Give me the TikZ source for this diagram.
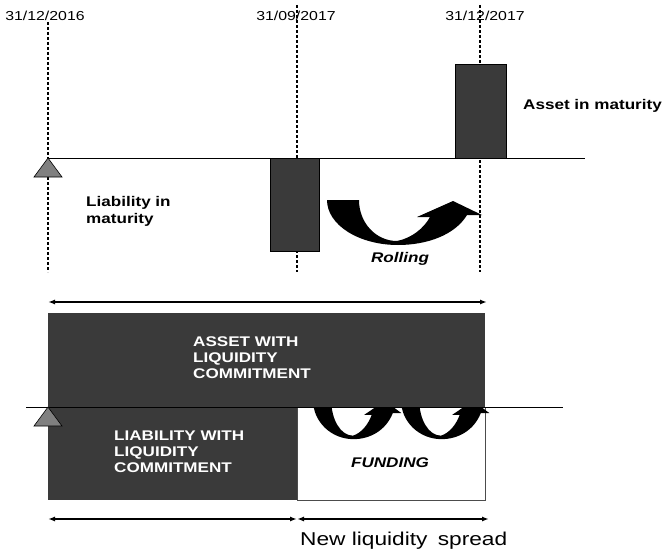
\documentclass[tikz,border=0pt]{standalone}
\usepackage{fontspec}
\setmainfont{Liberation Sans}[FakeStretch=1.22]
\usetikzlibrary{arrows.meta}

\definecolor{barfill}{HTML}{3A3A3A}
\definecolor{trifill}{HTML}{808080}

\tikzset{
    rollarrow/.pic={
        \fill (0,0) -- (32,0) .. controls (32,23) and (49,41) .. (70,41)
            .. controls (85,38) and (97,28) .. (103,17) -- (90,17) -- (126,1)
            -- (155,15) -- (140,15) .. controls (128,35) and (100,45) .. (71,45)
            .. controls (32,45) and (0,25) .. (0,0) -- cycle;
    }
}

\begin{document}
\begin{tikzpicture}[
    x=1pt, y=-1pt,
    dashline/.style={line width=2pt, dash pattern=on 3pt off 2pt},
    axis/.style={line width=0.8pt},
    bar/.style={draw=black, fill=barfill, line width=0.6pt},
    tri/.style={draw=black, fill=trifill, line width=0.6pt},
    date/.style={font=\fontsize{13}{15}\selectfont, inner sep=0pt, anchor=base},
    note/.style={font=\fontsize{14}{17}\selectfont\bfseries, align=left, inner sep=0pt, anchor=west},
    caps/.style={font=\fontsize{14}{16}\selectfont\bfseries, align=left, inner sep=0pt, anchor=west, text=white},
    span/.style={{Latex[length=7pt,width=5pt]}-{Latex[length=7pt,width=5pt]}, line width=1.7pt}
]
\useasboundingbox (0,0) rectangle (663,551);

% dates and time lines
\node[date] (date1) at (45,21) {31/12/2016};
\node[date] (date2) at (296,21) {31/09/2017};
\node[date] (date3) at (485,21) {31/12/2017};
\foreach \x/\y [count=\i] in {48/22, 297/5, 480/5} {
    \coordinate (top\i) at (\x,\y);
    \coordinate (bot\i) at (\x,272);
    \draw[dashline] (top\i) -- (bot\i);
}

% maturities
\draw[axis] (48,158) -- (585,158);
\filldraw[bar] (455,64) rectangle (506,158);
\filldraw[bar] (270,158) rectangle (319,251);
\filldraw[tri] (48,158) -- (62,177) -- (34,177) -- cycle;
\node[note] (asset) at (523,106) {Asset in maturity};
\node[note] (liab) at (86,211) {Liability in\\maturity};
\pic (roll) at (327,200) {rollarrow};
\node[font=\fontsize{14}{17}\selectfont\bfseries\itshape, inner sep=0pt, anchor=base] (rolling) at (400,262) {Rolling};

% commitments
\coordinate (s0) at (48,302);
\coordinate (s1) at (487,302);
\draw[span] (s0) -- (s1);
\filldraw[draw=black!70, fill=white, line width=0.6pt] (297,407) rectangle (485,500);
\fill[barfill] (48,407) rectangle (297,500);
\pic[xscale=0.57, yscale=0.87] (fund1) at (313,400) {rollarrow};
\pic[xscale=0.57, yscale=0.87] (fund2) at (401,400) {rollarrow};
\fill[barfill] (48,313) rectangle (485,407);
\draw[axis] (26,407) -- (563,407);
\filldraw[tri] (48,407) -- (62,426) -- (34,426) -- cycle;
\node[caps] (assetlc) at (193,358) {ASSET WITH\\LIQUIDITY\\COMMITMENT};
\node[caps] (liablc) at (114,452) {LIABILITY WITH\\LIQUIDITY\\COMMITMENT};
\node[font=\fontsize{14}{17}\selectfont\bfseries\itshape, inner sep=0pt, anchor=base] (funding) at (390,467) {FUNDING};

% spreads
\coordinate (b0) at (48,519);
\coordinate (b1) at (297,519);
\coordinate (b2) at (489,519);
\draw[span] (b0) -- (b1);
\draw[span] (b1) -- (b2);
\node[font=\fontsize{18.6}{22}\selectfont, inner sep=0pt, anchor=base west] (spread) at (300,545) {New liquidity\hspace{4pt} spread};
\end{tikzpicture}
\end{document}
